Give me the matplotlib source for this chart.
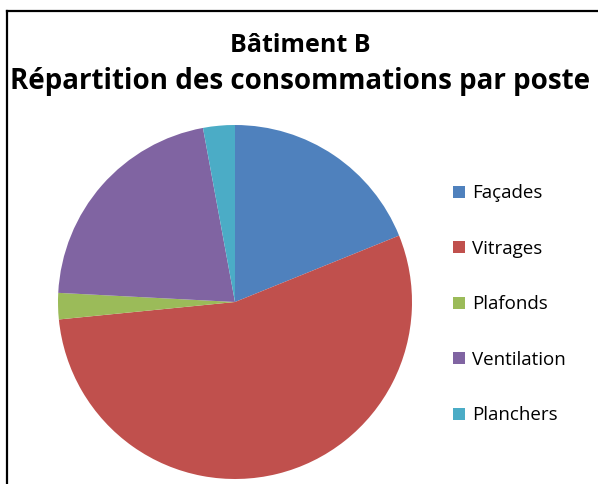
import matplotlib
matplotlib.use("Agg")
import matplotlib.pyplot as plt
from matplotlib.patches import Patch
from matplotlib.lines import Line2D

title_line1 = "Bâtiment B"
title_line2 = "Répartition des consommations par poste"
categories = ["Façades", "Vitrages", "Plafonds", "Ventilation", "Planchers"]
values = [18.9, 54.6, 2.4, 21.3, 2.9]
colors = ["#4F81BD", "#C0504D", "#9BBB59", "#8064A2", "#4BACC6"]

W, H = 598, 484
fig = plt.figure(figsize=(W / 100, H / 100), dpi=100)
fig.patch.set_facecolor("white")

# frame lines (left and top)
fig.add_artist(Line2D([6.5 / W, 6.5 / W], [0, 1 - 10.5 / H], color="black", lw=1.6))
fig.add_artist(Line2D([6.5 / W, 1], [1 - 10.5 / H, 1 - 10.5 / H], color="black", lw=1.6))

cx, cy, r = 235, 302, 177
ax = fig.add_axes([(cx - r) / W, (H - cy - r) / H, 2 * r / W, 2 * r / H])
ax.pie(values, colors=colors, startangle=90, counterclock=False, radius=1,
       wedgeprops=dict(linewidth=0))
ax.set_xlim(-1, 1)
ax.set_ylim(-1, 1)
ax.set_aspect("equal")
ax.axis("off")

fig.text(300 / W, 1 - 46 / H, title_line1, ha="center", va="center",
         fontsize=18, fontweight="bold", family="Open Sans")
fig.text(300 / W, 1 - 81 / H, title_line2, ha="center", va="center",
         fontsize=20, fontweight="bold", family="Open Sans")

handles = [Patch(facecolor=c, edgecolor="none") for c in colors]
leg = fig.legend(handles, categories, loc="upper left", bbox_to_anchor=(444 / W, 1 - 175 / H),
                 frameon=False, labelspacing=2.0, handlelength=0.6,
                 handleheight=0.6, handletextpad=0.4, borderpad=0,
                 prop=dict(family="Open Sans", size=13.5))

fig.savefig("out.png", dpi=100)
